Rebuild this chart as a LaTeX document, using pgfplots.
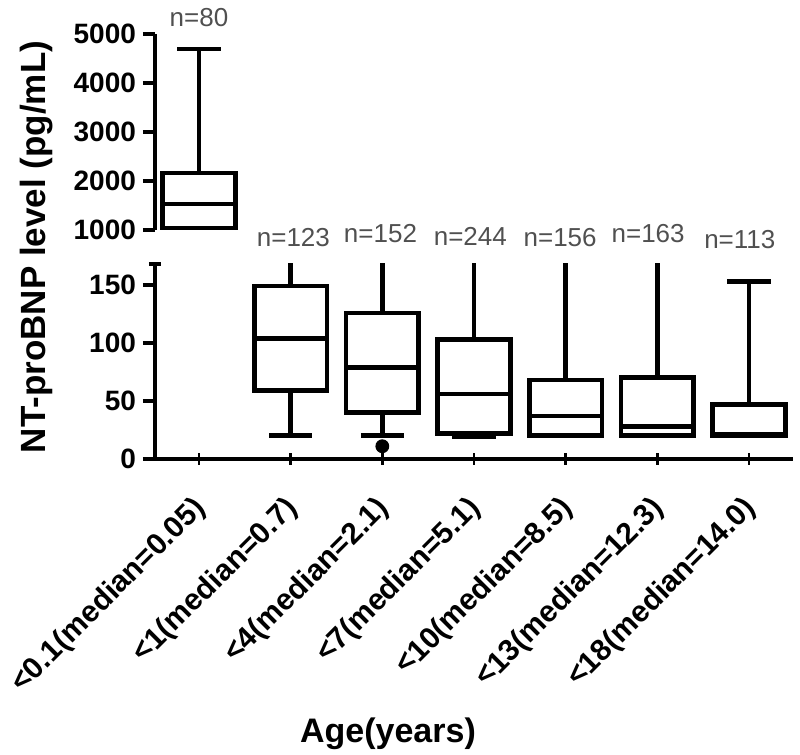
\documentclass[border=0pt]{standalone}
\usepackage{pgfplots}
\pgfplotsset{compat=1.18}
\usepgfplotslibrary{statistics}
\usepackage{fontspec}
\setmainfont{Liberation Sans}
\definecolor{ngray}{RGB}{80,80,80}

\begin{document}
\begin{tikzpicture}
\useasboundingbox (0pt,0pt) rectangle (400pt,377.5pt);
\pgfplotsset{
 common/.style={
   scale only axis, width=319pt, xmin=-0.48, xmax=6.48,
   axis y line=left,
   tick align=outside, major tick length=6pt,
   ytick style={line width=2pt, black},
   yticklabel style={font=\bfseries\fontsize{14}{14}\selectfont},
   /pgf/number format/assume math mode=true,
   scaled y ticks=false,
   boxplot/draw direction=y,
 },
 bx/.style={black, solid, line width=2.3pt, mark=*, mark size=3.2pt, mark options={solid, fill=black, line width=0.5pt}},
}
% upper panel (values in thousands of pg/mL)
\begin{axis}[common, at={(77.5pt,262.5pt)}, anchor=south west, height=98pt,
  ymin=1, ymax=5, ytick={1,2,3,4,5}, yticklabels={1000,2000,3000,4000,5000},
  xtick=\empty, axis x line=none, clip=false,
  axis line style={line width=2pt,-}, y axis line style={-}]
\addplot[bx, boxplot prepared={draw position=0, box extend=0.79, whisker extend=0.47,
  lower whisker=1.04, lower quartile=1.04, median=1.53, upper quartile=2.16, upper whisker=4.69}] coordinates {};
\node[font=\fontsize{13}{13}\selectfont, text=ngray] at (axis cs:0,5.33) {n=80};
\end{axis}
% lower panel
\begin{axis}[common, at={(77.5pt,148pt)}, anchor=south west, height=97.5pt,
  ymin=0, ymax=168.1, ytick={0,50,100,150},
  extra y ticks={168.1}, extra y tick labels={},
  extra y tick style={tick align=center},
  axis x line=bottom,
  axis line style={line width=2pt,-},
  x axis line style={-}, y axis line style={-},
  xtick={0,1,2,3,4,5,6},
  x tick style={line width=1.2pt, black},
  xticklabels={{<0.1(median=0.05)},{<1(median=0.7)},{<4(median=2.1)},{<7(median=5.1)},{<10(median=8.5)},{<13(median=12.3)},{<18(median=14.0)}},
  xticklabel style={font=\bfseries\fontsize{15}{15}\selectfont, xshift=3.5pt, yshift=-17pt, rotate=45, anchor=east},
  ]
\addplot[bx, boxplot prepared={draw position=1, box extend=0.79, whisker extend=0.47,
  lower whisker=20, lower quartile=59, median=104, upper quartile=149, upper whisker=200}] coordinates {};
\addplot[bx, boxplot prepared={draw position=2, box extend=0.79, whisker extend=0.47,
  lower whisker=20, lower quartile=40, median=79, upper quartile=126, upper whisker=200}]
  table[row sep=\\, y index=0] {data\\ 11\\};
\addplot[bx, boxplot prepared={draw position=3, box extend=0.79, whisker extend=0.47,
  lower whisker=19, lower quartile=22, median=56, upper quartile=103, upper whisker=200}] coordinates {};
\addplot[bx, boxplot prepared={draw position=4, box extend=0.79, whisker extend=0.47,
  lower whisker=20, lower quartile=20, median=37, upper quartile=68, upper whisker=200}] coordinates {};
\addplot[bx, boxplot prepared={draw position=5, box extend=0.79, whisker extend=0.47,
  lower whisker=20, lower quartile=20, median=28, upper quartile=70, upper whisker=200}] coordinates {};
\addplot[bx, boxplot prepared={draw position=6, box extend=0.79, whisker extend=0.47,
  lower whisker=20, lower quartile=20, median=21.5, upper quartile=47, upper whisker=153}] coordinates {};
\coordinate (n1) at (axis cs:1.03,190.5);
\coordinate (n2) at (axis cs:1.98,194);
\coordinate (n3) at (axis cs:2.96,192);
\coordinate (n4) at (axis cs:3.94,190.5);
\coordinate (n5) at (axis cs:4.9,194);
\coordinate (n6) at (axis cs:5.9,189);
\end{axis}
\begin{scope}[every node/.style={font=\fontsize{13}{13}\selectfont, text=ngray}]
\node at (n1) {n=123};
\node at (n2) {n=152};
\node at (n3) {n=244};
\node at (n4) {n=156};
\node at (n5) {n=163};
\node at (n6) {n=113};
\end{scope}
\node[rotate=90, font=\bfseries\fontsize{17.5}{17.5}\selectfont] at (18.5pt,254pt) {NT-proBNP level (pg/mL)};
\node[font=\bfseries\fontsize{17}{17}\selectfont, anchor=base] at (194pt,6pt) {Age(years)};
\end{tikzpicture}
\end{document}
